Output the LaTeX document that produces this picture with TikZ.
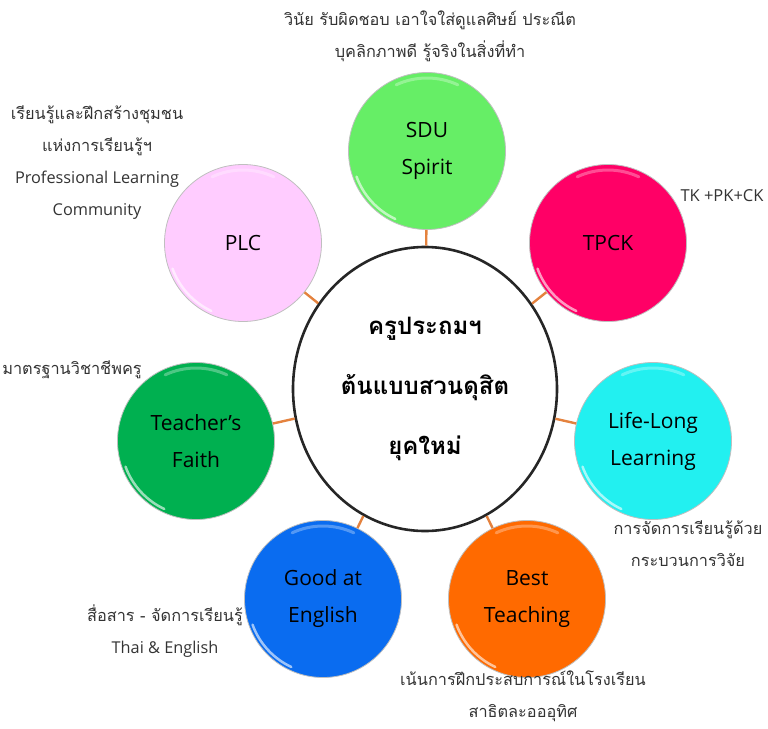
\documentclass[tikz,border=0pt]{standalone}
\usepackage{fontspec}
\setmainfont[Script=Thai]{Loma}
\newfontfamily\latinfont{Open Sans}
\usetikzlibrary{shapes.geometric,calc}
\definecolor{cSDU}{HTML}{66EE66}
\definecolor{cTPCK}{HTML}{FF0066}
\definecolor{cPLC}{HTML}{FFCCFF}
\definecolor{cFaith}{HTML}{00B050}
\definecolor{cLLL}{HTML}{22F0F0}
\definecolor{cEng}{HTML}{0A6CF0}
\definecolor{cBest}{HTML}{FF6A00}
\definecolor{cConn}{HTML}{E4823E}
\definecolor{cNote}{HTML}{333333}
\tikzset{
  ball/.style={circle, minimum size=157pt, inner sep=0pt, draw=black!25, line width=0.8pt,
    align=center, font=\latinfont\fontsize{21}{37}\selectfont},
  hub/.style={ellipse, minimum width=264pt, minimum height=284pt, inner sep=0pt, draw=black!85,
    line width=2.6pt, fill=white, align=center, font=\bfseries\fontsize{24}{60}\selectfont},
  conn/.style={draw=cConn, line width=2.4pt},
  note/.style={align=center, text=cNote, font=\fontsize{16.3}{32}\selectfont, inner sep=0pt},
  shineA/.style={white, opacity=.6, line width=2.5pt, line cap=round},
  shineB/.style={white, opacity=.3, line width=3pt, line cap=round}
}
\begin{document}
\begin{tikzpicture}[x=1pt,y=1pt]
\useasboundingbox (0,0) rectangle (768,-728);
\node[hub] (ctr) at (425,-389) {ครูประถมฯ\\ต้นแบบสวนดุสิต\\ยุคใหม่};
\node[ball, fill=cSDU] (sdu) at (427,-151) {SDU\\Spirit};
\node[ball, fill=cTPCK] (tpck) at (608,-243) {TPCK};
\node[ball, fill=cPLC] (plc) at (243,-243) {PLC};
\node[ball, fill=cFaith] (faith) at (196,-441) {Teacher’s\\Faith};
\node[ball, fill=cLLL] (lll) at (653,-441) {Life-Long\\Learning};
\node[ball, fill=cEng] (eng) at (323,-599) {Good at\\English};
\node[ball, fill=cBest] (best) at (527,-599) {Best\\Teaching};
\foreach \n in {sdu,tpck,plc,faith,lll,eng,best}{
  \draw[conn] (\n) -- (ctr);
  \draw[shineA] ($(\n.center)+(200:75)$) arc[start angle=200,end angle=245,radius=75];
  \draw[shineB] ($(\n.center)+(65:73)$) arc[start angle=65,end angle=115,radius=73];
}
\node[note] (nSDU) at (430,-36) {วินัย รับผิดชอบ เอาใจใส่ดูแลศิษย์ ประณีต\\บุคลิกภาพดี รู้จริงในสิ่งที่ทำ};
\node[note] (nPLC) at (97,-163) {เรียนรู้และฝึกสร้างชุมชน\\แห่งการเรียนรู้ฯ\\{\latinfont Professional Learning}\\{\latinfont Community}};
\node[note, font=\latinfont\fontsize{16.5}{32}\selectfont] (nTPCK) at (722,-196) {TK +PK+CK};
\node[note] (nFaith) at (72,-370) {มาตรฐานวิชาชีพครู};
\node[note] (nLLL) at (688,-544) {การจัดการเรียนรู้ด้วย\\กระบวนการวิจัย};
\node[note] (nEng) at (165,-631) {สื่อสาร - จัดการเรียนรู้\\{\latinfont Thai \& English}};
\node[note] (nBest) at (523,-696) {เน้นการฝึกประสบการณ์ในโรงเรียน\\สาธิตละอออุทิศ};
\end{tikzpicture}
\end{document}
